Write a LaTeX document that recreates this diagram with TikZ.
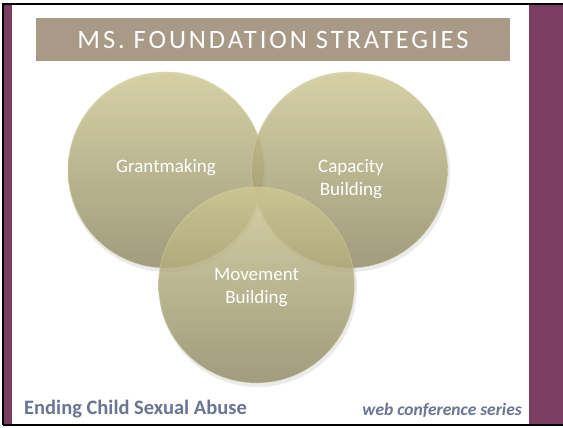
\documentclass[tikz,border=0pt]{standalone}
\usepackage{fontspec}
\setmainfont{Carlito}
\definecolor{frameplum}{HTML}{7A3E62}
\definecolor{titlebg}{HTML}{A99A87}
\definecolor{circtop}{HTML}{D0CA94}
\definecolor{circbot}{HTML}{8E8962}
\definecolor{circedge}{HTML}{D8D3A8}
\definecolor{foottext}{HTML}{6A7493}
\tikzset{
  venn/.style={circle, minimum size=196pt, inner sep=0pt, top color=circtop, bottom color=circbot,
    fill opacity=0.8, draw=circedge, draw opacity=0.6, line width=0.6pt},
  vennshadow/.style={circle, minimum size=198pt, inner sep=0pt, fill=black, fill opacity=0.08},
  venntext/.style={text=white, font=\fontsize{19}{23}\selectfont, align=center},
  foot/.style={text=foottext, inner sep=0pt}
}
\begin{document}
\begin{tikzpicture}[x=1pt,y=-1pt]
\useasboundingbox (0,0) rectangle (563,428);
\fill[white] (0,0) rectangle (563,428);
\fill[frameplum] (4,4) rectangle (12,425);
\fill[frameplum] (529,4) rectangle (563,425);
\draw[black, line width=1.5pt] (3,425) -- (3,4) -- (563,4);
\draw[black, line width=1.5pt] (3,425) -- (563,425);
% title
\node (title) [fill=titlebg, minimum width=474pt, minimum height=42.7pt, inner sep=0pt, text=white,
  font=\fontsize{26.5}{30}\selectfont\addfontfeatures{LetterSpace=11}] at (273,39.7) {MS.\ FOUNDATION STRATEGIES};
% shadows
\node (sg) [vennshadow] at (167,173) {};
\node (sc) [vennshadow] at (351,173) {};
\node (sm) [vennshadow] at (258,288) {};
% circles
\node (grant) [venn] at (166,170) {};
\node (cap) [venn] at (349.5,170) {};
\node (move) [venn] at (256.5,285) {};
% texts
\node (tg) [venntext] at (166,168) {Grantmaking};
\node (tc) [venntext] at (351,179) {Capacity\\Building};
\node (tm) [venntext] at (256.5,287.5) {Movement\\Building};
% footer
\node (f1) [foot, anchor=base west, font=\bfseries\fontsize{20.5}{24}\selectfont] at (24,414) {Ending Child Sexual Abuse};
\node (f2) [foot, anchor=base east, font=\bfseries\itshape\fontsize{17.5}{20}\selectfont] at (522,415) {web conference series};
\end{tikzpicture}
\end{document}
